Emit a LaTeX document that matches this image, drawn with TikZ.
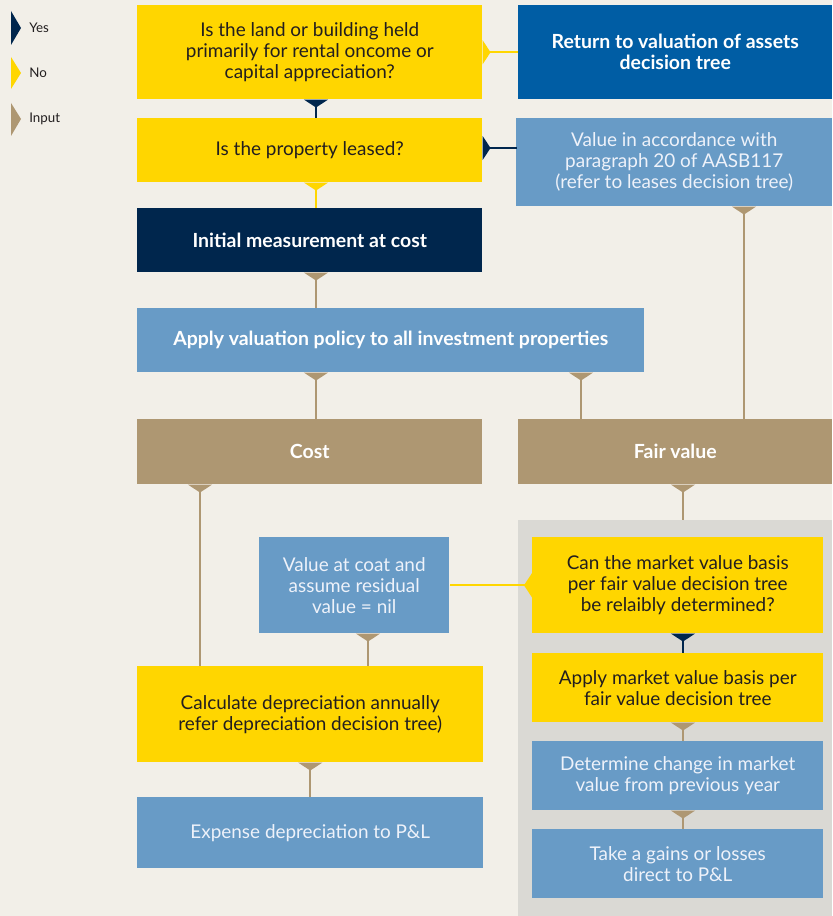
\documentclass[tikz,border=0pt]{standalone}
\usepackage{fontspec}
\setmainfont{Lato}
\usetikzlibrary{arrows.meta,positioning,calc}
\definecolor{pagebeige}{RGB}{242,239,232}
\definecolor{dtyellow}{RGB}{255,214,0}
\definecolor{dtnavy}{RGB}{0,38,77}
\definecolor{dtblue}{RGB}{0,93,164}
\definecolor{dtlight}{RGB}{104,155,198}
\definecolor{dttan}{RGB}{174,151,114}
\definecolor{dtgrey}{RGB}{218,217,212}
\definecolor{dttext}{RGB}{34,30,31}
\definecolor{dtpale}{RGB}{238,242,250}

\begin{document}
\begin{tikzpicture}[
    x=0.75pt, y=-0.75pt,
    every node/.style={font=\fontsize{14.2}{15.75}\selectfont, inner sep=0pt},
    wh/.style 2 args={minimum width=#1*0.75pt, minimum height=#2*0.75pt},
    box/.style={rectangle, anchor=north west, align=center},
    heavy/.style={font=\fontsize{14.6}{15.75}\selectfont\bfseries},
    ybox/.style={box, fill=dtyellow, text=dttext},
    nbox/.style={box, heavy, fill=dtnavy, text=white},
    bbox/.style={box, heavy, fill=dtblue, text=white},
    lbox/.style={box, fill=dtlight, text=dtpale},
    lboxb/.style={box, heavy, fill=dtlight, text=white},
    tbox/.style={box, heavy, fill=dttan, text=white},
    tab/.style={{Triangle[reversed, width=18pt, length=6pt]}-, line width=1.5pt},
    yesline/.style={tab, draw=dtnavy, fill=dtnavy},
    noline/.style={tab, draw=dtyellow, fill=dtyellow},
    inline/.style={tab, draw=dttan, fill=dttan},
    key/.style={anchor=west, text=dttext, font=\fontsize{10}{12}\selectfont}
]
\fill[pagebeige] (0,0) rectangle (832,916);
\useasboundingbox (0,0) rectangle (832,916);

% Legend
\fill[dtnavy]   (11,11) -- (21,28) -- (11,45) -- cycle;
\fill[dtyellow] (11,57) -- (21,73) -- (11,89) -- cycle;
\fill[dttan]    (11,103) -- (21,119) -- (11,136) -- cycle;
\node[key] (kyes) at (29,28)  {Yes};
\node[key] (kno)  at (29,73)  {No};
\node[key] (kin)  at (29,119) {Input};

% Fair value panel
\node[box, fill=dtgrey, wh={314}{396}] (panel) at (518,520) {};

% Left column
\node[ybox, wh={345}{94}] (held)  at (137,5)   {Is the land or building held\\primarily for rental oncome or\\capital appreciation?};
\node[ybox, wh={345}{64}] (leased) at (137,118) {Is the property leased?};
\node[nbox, wh={345}{64}] (init)  at (137,208) {Initial measurement at cost};
\node[lboxb, wh={507}{64}] (policy) at (137,308) {Apply valuation policy to all investment properties};
\node[tbox, wh={345}{65}] (cost)  at (137,419) {Cost};
\node[lbox, wh={190}{96}] (coat)  at (259,537) {Value at coat and\\assume residual\\value = nil};
\node[ybox, wh={346}{96}] (depr)  at (137,666) {Calculate depreciation annually\\refer depreciation decision tree)};
\node[lbox, wh={346}{71}] (expense) at (137,797) {Expense depreciation to P\&L};

% Right column
\node[bbox, wh={314}{94}] (return) at (518,5)   {Return to valuation of assets\\decision tree};
\node[lbox, wh={316}{88}] (lease)  at (516,118) {Value in accordance with\\paragraph 20 of AASB117\\(refer to leases decision tree)};
\node[tbox, wh={314}{65}] (fair)   at (518,419) {Fair value};
\node[ybox, wh={291}{96}] (reliable) at (532,537) {Can the market value basis\\per fair value decision tree\\be relaibly determined?};
\node[ybox, wh={291}{69}] (market) at (532,653) {Apply market value basis per\\fair value decision tree};
\node[lbox, wh={291}{69}] (change) at (532,741) {Determine change in market\\value from previous year};
\node[lbox, wh={291}{69}] (gains)  at (532,829) {Take a gains or losses\\direct to P\&L};

% Questions
\draw[yesline] ($(held.south west)+(179,0)$) -- ($(leased.north west)+(179,0)$);
\draw[noline]  (held.east)    -- (held.east -| return.west);
\draw[yesline] ($(leased.north east)+(0,30)$) -- ($(leased.north east)+(34,30)$);
\draw[noline]  ($(leased.south west)+(179,0)$) -- ($(init.north west)+(179,0)$);

% Inputs to the policy
\draw[inline] ($(init.south west)+(179,0)$) -- ($(policy.north west)+(179,0)$);
\draw[inline] ($(policy.south west)+(179,0)$) -- ($(cost.north west)+(179,0)$);
\draw[inline] ($(policy.south west)+(444,0)$) -- ($(fair.north west)+(63,0)$);
\draw[inline] ($(lease.south west)+(228,0)$) -- ($(fair.north west)+(226,0)$);

% Cost branch
\draw[inline] ($(cost.south west)+(63,0)$) -- ($(depr.north west)+(63,0)$);
\draw[inline] ($(coat.south west)+(109,0)$) -- ($(depr.north west)+(231,0)$);
\draw[inline] (depr.south) -- (expense.north);

% Fair value branch
\draw[inline]  ($(fair.south west)+(165,0)$) -- ($(panel.north west)+(165,0)$);
\draw[noline]  (reliable.west) -- (coat.east);
\draw[yesline] ($(reliable.south west)+(151,0)$) -- ($(market.north west)+(151,0)$);
\draw[inline]  ($(market.south west)+(151,0)$) -- ($(change.north west)+(151,0)$);
\draw[inline]  ($(change.south west)+(151,0)$) -- ($(gains.north west)+(151,0)$);

\end{tikzpicture}
\end{document}
